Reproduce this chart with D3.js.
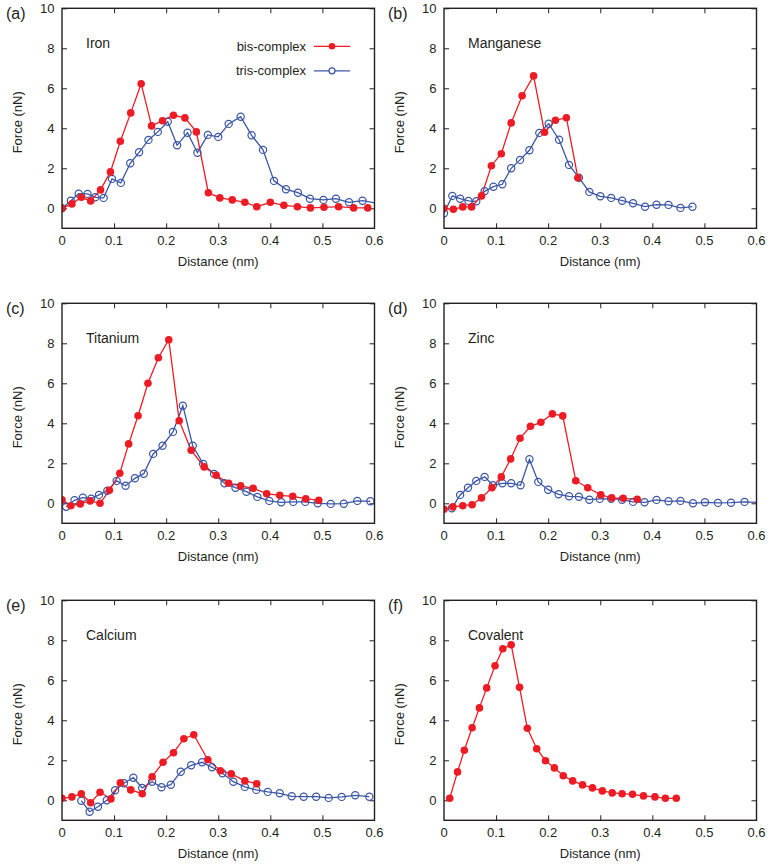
<!DOCTYPE html>
<html><head><meta charset="utf-8">
<script src="https://cdn.jsdelivr.net/npm/d3@7"></script>
<style>body{margin:0;background:#fff}svg{display:block}text{font-family:"Liberation Sans",Arial,Helvetica,sans-serif;fill:#231f20}</style>
</head><body>
<script>
// ---- data (distance nm, force nN) ----
const xTicks = [0, 0.1, 0.2, 0.3, 0.4, 0.5, 0.6];
const yTicks = [0, 2, 4, 6, 8, 10];
const panelLetters = ["(a)", "(b)", "(c)", "(d)", "(e)", "(f)"];
const metalNames = ["Iron", "Manganese", "Titanium", "Zinc", "Calcium", "Covalent"];
const seriesNames = ["bis-complex", "tris-complex"];

const ironBis = [[0,0],[0.019,0.22],[0.037,0.55],[0.055,0.37],[0.074,0.92],[0.093,1.82],[0.112,3.35],[0.132,4.77],[0.152,6.23],[0.172,4.12],[0.193,4.38],[0.214,4.65],[0.236,4.52],[0.258,3.82],[0.281,0.78],[0.303,0.52],[0.327,0.42],[0.351,0.30],[0.374,0.08],[0.400,0.30],[0.426,0.15],[0.452,0.08],[0.477,0.02],[0.503,0.05],[0.531,0.08],[0.560,0.02],[0.587,0.02]];
const ironTris = [[0,0],[0.017,0.38],[0.032,0.73],[0.049,0.72],[0.064,0.55],[0.080,0.52],[0.096,1.47],[0.113,1.27],[0.131,2.25],[0.148,2.80],[0.166,3.42],[0.184,3.82],[0.203,4.33],[0.221,3.15],[0.241,3.78],[0.260,2.78],[0.280,3.67],[0.300,3.57],[0.320,4.22],[0.343,4.58],[0.364,3.65],[0.386,2.92],[0.407,1.37],[0.430,0.95],[0.453,0.78],[0.476,0.48],[0.502,0.42],[0.526,0.48],[0.551,0.30],[0.577,0.38],[0.612,0.22]];
const mnBis = [[0,0],[0.018,-0.05],[0.036,0.07],[0.053,0.07],[0.072,0.62],[0.091,2.13],[0.110,2.73],[0.129,4.27],[0.150,5.63],[0.172,6.62],[0.193,3.80],[0.214,4.40],[0.235,4.53],[0.257,1.53]];
const mnTris = [[0,-0.25],[0.016,0.62],[0.031,0.48],[0.047,0.37],[0.062,0.35],[0.078,0.85],[0.095,1.08],[0.112,1.20],[0.129,2.00],[0.146,2.42],[0.164,2.90],[0.183,3.77],[0.201,4.23],[0.221,3.43],[0.240,2.17],[0.259,1.53],[0.279,0.82],[0.300,0.60],[0.321,0.52],[0.342,0.38],[0.363,0.25],[0.386,0.08],[0.408,0.18],[0.431,0.17],[0.454,0.02],[0.477,0.08]];
const tiBis = [[0,0.17],[0.017,-0.12],[0.035,-0.03],[0.054,0.12],[0.073,0.0],[0.091,0.65],[0.111,1.50],[0.128,2.97],[0.146,4.38],[0.165,6.00],[0.185,7.28],[0.205,8.18],[0.225,4.13],[0.248,2.65],[0.273,1.82],[0.296,1.40],[0.320,1.00],[0.343,0.87],[0.367,0.75],[0.393,0.48],[0.418,0.40],[0.443,0.35],[0.468,0.23],[0.493,0.15]];
const tiTris = [[0.008,-0.17],[0.024,0.15],[0.040,0.28],[0.056,0.23],[0.071,0.42],[0.087,0.63],[0.105,1.12],[0.122,0.88],[0.140,1.25],[0.157,1.48],[0.175,2.47],[0.193,2.88],[0.213,3.57],[0.232,4.88],[0.251,2.88],[0.271,1.97],[0.292,1.47],[0.312,1.00],[0.333,0.78],[0.354,0.58],[0.375,0.32],[0.398,0.12],[0.421,0.05],[0.444,0.07],[0.467,0.07],[0.491,0.0],[0.516,-0.03],[0.541,-0.02],[0.567,0.12],[0.592,0.10]];
const znBis = [[0,-0.30],[0.017,-0.18],[0.036,-0.12],[0.054,-0.07],[0.072,0.27],[0.092,0.78],[0.110,1.32],[0.128,2.22],[0.146,3.25],[0.166,3.85],[0.186,4.05],[0.208,4.47],[0.228,4.37],[0.253,1.13],[0.276,0.78],[0.301,0.42],[0.322,0.27],[0.344,0.25],[0.371,0.20]];
const znTris = [[0.015,-0.25],[0.031,0.42],[0.046,0.78],[0.062,1.12],[0.078,1.32],[0.094,0.90],[0.112,1.00],[0.129,1.00],[0.147,0.90],[0.164,2.20],[0.181,1.07],[0.200,0.68],[0.220,0.45],[0.240,0.35],[0.259,0.33],[0.279,0.18],[0.299,0.22],[0.321,0.23],[0.342,0.18],[0.363,0.07],[0.385,0.05],[0.408,0.17],[0.431,0.10],[0.454,0.12],[0.478,0.0],[0.501,0.05],[0.526,0.02],[0.551,0.03],[0.577,0.07],[0.612,0.03]];
const caBis = [[0,0.10],[0.019,0.17],[0.037,0.33],[0.055,-0.12],[0.073,0.40],[0.094,0.07],[0.112,0.88],[0.132,0.52],[0.154,0.33],[0.173,1.18],[0.194,1.90],[0.214,2.38],[0.234,3.08],[0.253,3.28],[0.280,2.03],[0.304,1.48],[0.325,1.32],[0.351,0.97],[0.374,0.83]];
const caTris = [[0.037,-0.02],[0.053,-0.57],[0.069,-0.32],[0.086,0.0],[0.102,0.50],[0.119,0.85],[0.137,1.13],[0.154,0.62],[0.173,0.93],[0.191,0.65],[0.209,0.78],[0.228,1.43],[0.248,1.75],[0.269,1.90],[0.288,1.65],[0.308,1.35],[0.329,0.93],[0.351,0.67],[0.373,0.52],[0.395,0.42],[0.418,0.35],[0.441,0.20],[0.464,0.18],[0.488,0.18],[0.512,0.12],[0.537,0.17],[0.563,0.25],[0.590,0.18]];
const covalent = [[0.011,0.10],[0.026,1.42],[0.039,2.50],[0.054,3.63],[0.068,4.62],[0.082,5.62],[0.098,6.73],[0.113,7.58],[0.129,7.78],[0.145,5.65],[0.160,3.60],[0.178,2.58],[0.195,1.98],[0.212,1.62],[0.229,1.23],[0.247,0.97],[0.266,0.77],[0.285,0.62],[0.304,0.47],[0.323,0.37],[0.342,0.33],[0.362,0.30],[0.383,0.22],[0.405,0.17],[0.425,0.10],[0.446,0.10]];

const panelBis = [ironBis, mnBis, tiBis, znBis, caBis, covalent];
const panelTris = [ironTris, mnTris, tiTris, znTris, caTris, null];

// ---- layout ----
const W = 770, H = 864;
const colLeft = [62, 444], plotW = 312.5, plotH = 220;
const rowTop = [8.3, 303.3, 600.3];
const RED = "#ed1c24", BLUE = "#3a55a4";

const svg = d3.select("body").append("svg").attr("width", W).attr("height", H);

panelLetters.forEach((letter, i) => {
  const col = i % 2, row = Math.floor(i / 2);
  const g = svg.append("g").attr("transform", `translate(${colLeft[col]},${rowTop[row]})`);
  const x = d3.scaleLinear().domain([0, 0.6]).range([0, plotW]);
  const y = d3.scaleLinear().domain([-1, 10]).range([plotH, 0]);

  const clipId = "clip" + i;
  g.append("clipPath").attr("id", clipId).append("rect").attr("width", plotW).attr("height", plotH);

  // inward ticks on all sides
  const tl = 5;
  const inner = [0.1, 0.2, 0.3, 0.4, 0.5];
  g.append("g").attr("transform", `translate(0,${plotH})`)
    .call(d3.axisBottom(x).tickValues(inner).tickSize(-tl).tickFormat(""))
    .call(a => a.select(".domain").remove());
  g.append("g").call(d3.axisTop(x).tickValues(inner).tickSize(-tl).tickFormat(""))
    .call(a => a.select(".domain").remove());
  g.append("g").call(d3.axisLeft(y).tickValues(yTicks).tickSize(-tl).tickFormat(""))
    .call(a => a.select(".domain").remove());
  g.append("g").attr("transform", `translate(${plotW},0)`)
    .call(d3.axisRight(y).tickValues(yTicks).tickSize(-tl).tickFormat(""))
    .call(a => a.select(".domain").remove());
  g.selectAll(".tick line").attr("stroke", "#231f20").attr("stroke-width", 1);

  // tick labels
  g.append("g").selectAll("text").data(xTicks).join("text")
    .attr("x", d => x(d)).attr("y", plotH + 17).attr("text-anchor", "middle")
    .attr("font-size", 13).text(d => d3.format("")(d));
  g.append("g").selectAll("text").data(yTicks).join("text")
    .attr("x", -7.5).attr("y", d => y(d) + 4.5).attr("text-anchor", "end")
    .attr("font-size", 13).text(d => d);

  g.append("text").attr("x", plotW / 2).attr("y", plotH + 38).attr("text-anchor", "middle")
    .attr("font-size", 13).text("Distance (nm)");
  g.append("text").attr("transform", `translate(${-40},${plotH / 2 + 4}) rotate(-90)`)
    .attr("text-anchor", "middle").attr("font-size", 13).text("Force (nN)");
  g.append("text").attr("x", -56).attr("y", 10.5).attr("font-size", 16).text(letter);

  g.append("text").attr("x", 24).attr("y", 40).attr("font-size", 14).text(metalNames[i]);

  const line = d3.line().x(d => x(d[0])).y(d => y(d[1]));
  const pg = g.append("g").attr("clip-path", `url(#${clipId})`);
  const tris = panelTris[i];
  if (tris) {
    pg.append("path").datum(tris).attr("d", line).attr("fill", "none").attr("stroke", BLUE).attr("stroke-width", 1.3);
  }
  pg.append("path").datum(panelBis[i]).attr("d", line).attr("fill", "none").attr("stroke", RED).attr("stroke-width", 1.3);
  if (tris) {
    pg.selectAll("circle.t").data(tris).join("circle").attr("class", "t")
      .attr("cx", d => x(d[0])).attr("cy", d => y(d[1])).attr("r", 3.6)
      .attr("fill", "none").attr("stroke", BLUE).attr("stroke-width", 1.2);
  }
  pg.selectAll("circle.b").data(panelBis[i]).join("circle").attr("class", "b")
    .attr("cx", d => x(d[0])).attr("cy", d => y(d[1])).attr("r", 3.8).attr("fill", RED);

  // frame
  g.append("rect").attr("width", plotW).attr("height", plotH).attr("fill", "none")
    .attr("stroke", "#231f20").attr("stroke-width", 1.4);

  // legend on panel (a)
  if (i === 0) {
    const lg = g.append("g");
    const colors = [RED, BLUE];
    seriesNames.forEach((s, k) => {
      const ly = 38 + k * 24.5;
      lg.append("text").attr("x", 244).attr("y", ly + 4.5).attr("text-anchor", "end").attr("font-size", 13).text(s);
      lg.append("line").attr("x1", 252).attr("x2", 288).attr("y1", ly).attr("y2", ly)
        .attr("stroke", colors[k]).attr("stroke-width", 1.3);
      if (k === 0) lg.append("circle").attr("cx", 270).attr("cy", ly).attr("r", 3.3).attr("fill", RED);
      else lg.append("circle").attr("cx", 270).attr("cy", ly).attr("r", 3).attr("fill", "#fff").attr("stroke", BLUE).attr("stroke-width", 1.2);
    });
  }
});
</script>
</body></html>
